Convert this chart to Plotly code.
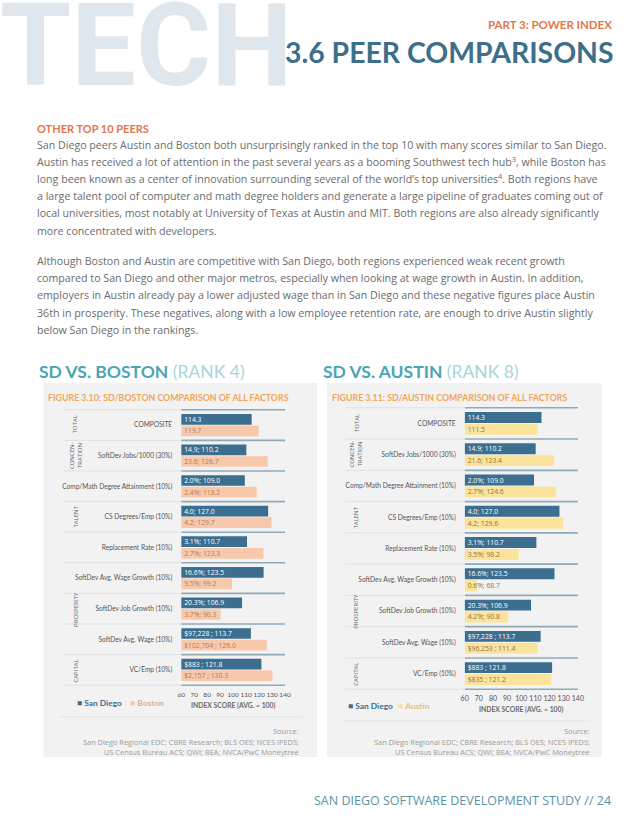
import plotly.graph_objects as go

# ---------------- data ----------------
categories = ["COMPOSITE", "SoftDev Jobs/1000 (30%)", "Comp/Math Degree Attainment (10%)",
              "CS Degrees/Emp (10%)", "Replacement Rate (10%)", "SoftDev Avg. Wage Growth (10%)",
              "SoftDev Job Growth (10%)", "SoftDev Avg. Wage (10%)", "VC/Emp (10%)"]
groups = ["TOTAL", "CONCEN-<br>TRATION", "TALENT", "PROSPERITY", "CAPITAL"]
group_rows = [(0, 0), (1, 1), (2, 4), (5, 7), (8, 8)]

sd_scores = [114.3, 110.2, 109.0, 127.0, 110.7, 123.5, 106.9, 113.7, 121.8]
sd_labels = ["114.3", "14.9; 110.2", "2.0%; 109.0", "4.0; 127.0", "3.1%; 110.7",
             "16.6%; 123.5", "20.3%; 106.9", "$97,228 ; 113.7", "$883 ; 121.8"]
boston_scores = [119.7, 126.7, 118.2, 129.7, 123.3, 99.2, 90.3, 126.0, 130.3]
boston_labels = ["119.7", "23.6; 126.7", "2.4%; 118.2", "4.2; 129.7", "2.7%; 123.3",
                 "9.5%; 99.2", "3.7%; 90.3", "$102,704 ; 126.0", "$2,157 ; 130.3"]
austin_scores = [111.5, 123.4, 124.6, 129.6, 98.2, 68.7, 90.8, 111.4, 121.2]
austin_labels = ["111.5", "21.6; 123.4", "2.7%; 124.6", "4.2; 129.6", "3.5%; 98.2",
                 "0.6%; 68.7", "4.2%; 90.8", "$96,253 ; 111.4", "$835 ; 121.2"]
x_ticks = [60, 70, 80, 90, 100, 110, 120, 130, 140]
axis_base = 60

paragraph1 = [
    "San Diego peers Austin and Boston both unsurprisingly ranked in the top 10 with many scores similar to San Diego.",
    "Austin has received a lot of attention in the past several years as a booming Southwest tech hub<sup>3</sup>, while Boston has",
    "long been known as a center of innovation surrounding several of the world’s top universities<sup>4</sup>. Both regions have",
    "a large talent pool of computer and math degree holders and generate a large pipeline of graduates coming out of",
    "local universities, most notably at University of Texas at Austin and MIT. Both regions are also already significantly",
    "more concentrated with developers.",
]
paragraph2 = [
    "Although Boston and Austin are competitive with San Diego, both regions experienced weak recent growth",
    "compared to San Diego and other major metros, especially when looking at wage growth in Austin. In addition,",
    "employers in Austin already pay a lower adjusted wage than in San Diego and these negative figures place Austin",
    "36th in prosperity. These negatives, along with a low employee retention rate, are enough to drive Austin slightly",
    "below San Diego in the rankings.",
]
source_lines = ["Source:", "San Diego Regional EDC; CBRE Research; BLS OES; NCES IPEDS;",
                "US Census Bureau ACS; QWI; BEA; NVCA/PwC Moneytree"]

# ---------------- styles ----------------
W, H = 638, 826
SD_C = "#3b6e8f"
BOS_C = "#f8c8ab"
AUS_C = "#fbe39b"
BOS_T = "#b07a5e"
AUS_T = "#8f7440"
ORANGE = "#e2764a"
FIG_OR = "#f0a55a"
TEAL = "#4aa6b5"
TEAL_L = "#a8d4dc"
BODY = "Open Sans"
HEAD = "Lato"
PANEL = "#f2f2f2"


def fx(x):
    return x / W


def fy(y):
    return 1 - y / H


annotations = []
shapes = []


def txt(x, y, s, size, color, family=BODY, xanchor="left", yanchor="middle", weight=None, **kw):
    font = dict(size=size, color=color, family=family)
    if weight is not None:
        font["weight"] = weight
    annotations.append(dict(x=fx(x), y=fy(y), xref="paper", yref="paper", text=s,
                            showarrow=False, font=font, xanchor=xanchor, yanchor=yanchor, **kw))


fig = go.Figure()

charts = [
    dict(ax="x", ay="y", x0=180, x1=285.5, yt=409, yb=686, other=boston_scores, olab=boston_labels,
         oc=BOS_C, ot=BOS_T, oname="Boston", panel=(40, 318), lab_x0=60, grp_x=73,
         title="SD VS. BOSTON", rank="(RANK 4)", fig="FIGURE 3.10: SD/BOSTON COMPARISON OF ALL FACTORS",
         idx_y=705, leg_y=703, leg_x=72, leg_x2=126, src_r=302, sep=(56, 304, 717), tick=6.5),
    dict(ax="x2", ay="y2", x0=468, x1=583, yt=407, yb=690, other=austin_scores, olab=austin_labels,
         oc=AUS_C, ot=AUS_T, oname="Austin", panel=(328, 607), lab_x0=347, grp_x=358,
         title="SD VS. AUSTIN", rank="(RANK 8)", fig="FIGURE 3.11: SD/AUSTIN COMPARISON OF ALL FACTORS",
         idx_y=709, leg_y=706, leg_x=347, leg_x2=398, src_r=597, sep=(345, 596, 721), tick=7),
]

for c in charts:
    for vals, labs, col, tcol, name in [(sd_scores, sd_labels, SD_C, "white", "San Diego"),
                                        (c["other"], c["olab"], c["oc"], c["ot"], c["oname"])]:
        fig.add_trace(go.Bar(
            y=categories, x=[v - axis_base for v in vals], base=axis_base, orientation="h",
            marker=dict(color=col, line=dict(width=0)), name=name, showlegend=False,
            text=labs, textposition="inside", insidetextanchor="start", textangle=0,
            constraintext="none", textfont=dict(size=6.8, color=tcol, family=BODY),
            xaxis=c["ax"], yaxis=c["ay"], cliponaxis=False))

    shapes.append(dict(type="rect", xref="paper", yref="paper", x0=fx(c["panel"][0]), x1=fx(c["panel"][1]),
                       y0=fy(757), y1=fy(383), fillcolor=PANEL, line=dict(width=0), layer="below"))
    xr = c["ax"]
    yr = c["ay"]
    for i in range(len(categories) + 1):
        yv = i - 0.5
        shapes.append(dict(type="line", xref="paper", yref=yr, x0=fx(c["lab_x0"]), x1=fx(c["x0"]),
                           y0=yv, y1=yv, line=dict(color="#dde2e6", width=1), layer="below"))
        shapes.append(dict(type="line", xref=xr, yref=yr, x0=60, x1=141.5, y0=yv, y1=yv,
                           line=dict(color="#8ea9ba", width=1.6), layer="below"))
    sx0, sx1, sy = c["sep"]
    shapes.append(dict(type="line", xref="paper", yref="paper", x0=fx(sx0), x1=fx(sx1), y0=fy(sy), y1=fy(sy),
                       line=dict(color="#e3e3e3", width=1)))
    rowh = (c["yb"] - c["yt"]) / len(categories)
    for g, (r0, r1) in zip(groups, group_rows):
        yc = c["yt"] + (r0 + r1 + 1) / 2 * rowh
        if "<br>" in g:
            a, b = g.split("<br>")
            txt(c["grp_x"] - 4, yc, a, 6, "#666666", xanchor="center", textangle=-90)
            txt(c["grp_x"] + 4, yc, b, 6, "#666666", xanchor="center", textangle=-90)
        else:
            txt(c["grp_x"], yc, g, 6, "#666666", xanchor="center", textangle=-90)
    txt(c["panel"][0] - 6, 371, f"<b>{c['title']}</b> <span style='color:{TEAL_L}'>{c['rank']}</span>",
        17.5, TEAL, family=HEAD)
    txt(c["panel"][0] + 3, 397, f"<b>{c['fig']}</b>", 8.8, FIG_OR, family=HEAD)
    txt((c["x0"] + c["x1"]) / 2, c["idx_y"], "<b>INDEX SCORE (AVG. = 100)</b>", 6.8, "#6a6a6a",
        family=HEAD, xanchor="center")
    txt(c["leg_x"], c["leg_y"], f"<span style='color:{SD_C}'>■</span> <b>San Diego</b>", 8.4, SD_C, family=HEAD)
    txt(c["leg_x2"], c["leg_y"], f"<span style='color:{c['oc']}'>■</span> <b>{c['oname']}</b>", 8.4,
        "#d9b08f" if c["oname"] == "Boston" else "#dcc47e", family=HEAD)
    for k, s in enumerate(source_lines):
        txt(c["src_r"], 731 + k * 10.5, s, 7.4, "#9b9b9b", xanchor="right")

axis_common = dict(showgrid=False, zeroline=False, showline=False, ticks="", fixedrange=True)
layout = dict(
    width=W, height=H, margin=dict(l=0, r=0, t=0, b=0), paper_bgcolor="white", plot_bgcolor="rgba(0,0,0,0)",
    barmode="group", bargap=0.24, bargroupgap=0.08, showlegend=False,
)
for c, xn, yn in [(charts[0], "xaxis", "yaxis"), (charts[1], "xaxis2", "yaxis2")]:
    layout[xn] = dict(domain=[fx(c["x0"]), fx(c["x1"])], range=[60, 140], tickvals=x_ticks,
                      tickangle=0, tickfont=dict(size=c["tick"], color="#555555", family=HEAD), anchor=c["ay"],
                      ticklabelstandoff=3, **axis_common)
    layout[yn] = dict(domain=[fy(c["yb"]), fy(c["yt"])], autorange="reversed", type="category",
                      tickfont=dict(size=6.6, color="#555555", family=HEAD), anchor=c["ax"],
                      ticklabelstandoff=8, **axis_common)

fig.update_layout(**layout)

# page header
txt(-6, 45, "<b>TECH</b>", 115, "#dfe7ed", family="Roboto")
txt(620, 25, "<b>PART 3: POWER INDEX</b>", 11.5, ORANGE, family=HEAD, xanchor="right")
txt(622, 52, "<b>3.6 PEER COMPARISONS</b>", 28.4, "#3e6f8a", family=HEAD, xanchor="right")
txt(31, 128, "<b>OTHER TOP 10 PEERS</b>", 11, ORANGE, family=HEAD)
for k, line in enumerate(paragraph1):
    txt(31, 144.5 + k * 17.2, line, 10.65, "#6b6b6b")
for k, line in enumerate(paragraph2):
    txt(31, 261 + k * 17.2, line, 10.65, "#6b6b6b")
txt(619, 800, "SAN DIEGO SOFTWARE DEVELOPMENT STUDY // 24", 12.5, "#5a93a5", xanchor="right")

fig.update_layout(annotations=annotations, shapes=shapes)
fig.write_html("out.html", config={"displayModeBar": False},
               post_script="document.body.style.margin='0';")
